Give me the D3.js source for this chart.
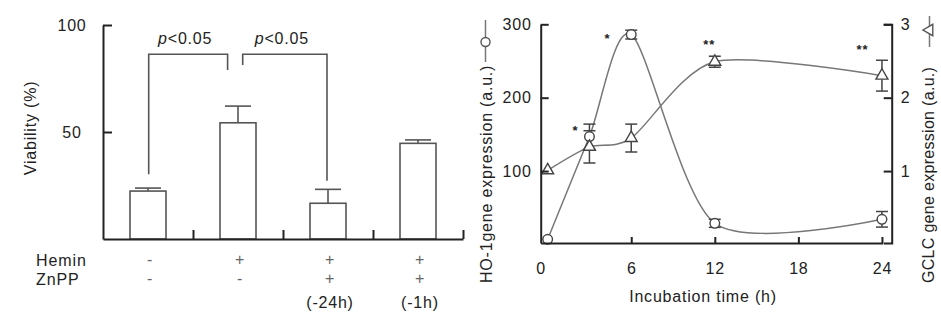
<!DOCTYPE html>
<html>
<head>
<meta charset="utf-8">
<script src="https://cdn.jsdelivr.net/npm/d3@7"></script>
<style>
  body { margin: 0; background: #fff; }
  svg { display: block; }
  text { font-family: "Liberation Sans", Arial, sans-serif; fill: #222; }
</style>
</head>
<body>
<svg width="941" height="319"></svg>
<script>
// ---- Left panel: viability bars
const groups = ["ctrl", "hemin", "znpp24", "znpp1"];
const viability = [22.4, 54.3, 16.7, 44.7];
const viabilityErr = [1.4, 7.8, 6.5, 1.6];
const heminRow = ["-", "+", "+", "+"];
const znppRow = ["-", "-", "+", "+"];
const timingRow = ["", "", "(-24h)", "(-1h)"];
const viabilityTicks = [50, 100];
// significance brackets: from bar, to bar, height, and where each leg stops
const comparisons = [
  {from: 0, to: 1, top: 86.3, legs: [30.2, 79], label: "<0.05"},
  {from: 1, to: 2, top: 86.3, legs: [81.3, 27.2], label: "<0.05"}
];

// ---- Right panel: time course
const times = [0, 3, 6, 12, 24];
const ho1 = [7, 147, 286, 28.8, 34.3];
const ho1Err = [0, 17, 6, 5.5, 10.6];
const gclc = [1.01, 1.33, 1.45, 2.49, 2.30];
const gclcErr = [0, 0.22, 0.19, 0.075, 0.21];
const timeTicks = [0, 6, 12, 18, 24];
const ho1Ticks = [100, 200, 300];
const gclcTicks = [1, 2, 3];
const starText = ["*", "*", "**", "**"];
const starTime = [2.0, 4.3, 11.6, 22.6];
const starLevel = [160, 285, 277, 271];

const svg = d3.select("svg");
const axisColor = "#222";
const markColor = "#555";

// =============== left panel ===============
const x1 = d3.scaleBand().domain(groups).range([103, 463])
  .paddingInner(0.6).paddingOuter(0.3);
const y1 = d3.scaleLinear().domain([0, 100]).range([239, 25]);
const xb = d3.scaleLinear().domain([0, 4]).range([103, 463]);

const left = svg.append("g");

// bars
left.selectAll("rect.bar")
  .data(groups)
  .join("rect")
    .attr("class", "bar")
    .attr("x", d => x1(d))
    .attr("width", x1.bandwidth())
    .attr("y", (d, i) => y1(viability[i]))
    .attr("height", (d, i) => y1(0) - y1(viability[i]))
    .attr("fill", "#fff")
    .attr("stroke", markColor)
    .attr("stroke-width", 1.6);

// error bars (upper only)
const eb = left.selectAll("g.err").data(groups).join("g").attr("class", "err")
  .attr("stroke", markColor).attr("stroke-width", 1.6);
eb.append("line")
  .attr("x1", d => x1(d) + x1.bandwidth() / 2)
  .attr("x2", d => x1(d) + x1.bandwidth() / 2)
  .attr("y1", (d, i) => y1(viability[i]))
  .attr("y2", (d, i) => y1(viability[i] + viabilityErr[i]));
eb.append("line")
  .attr("x1", d => x1(d) + x1.bandwidth() / 2 - 13)
  .attr("x2", d => x1(d) + x1.bandwidth() / 2 + 13)
  .attr("y1", (d, i) => y1(viability[i] + viabilityErr[i]))
  .attr("y2", (d, i) => y1(viability[i] + viabilityErr[i]));

// brackets
const cx = i => x1(groups[i]) + x1.bandwidth() / 2;
comparisons.forEach((c, k) => {
  // inner legs sit a little off the middle bar
  const xa = cx(c.from) + (k === 1 ? 4.7 : 0.7);
  const xc = cx(c.to) + (k === 0 ? -10.4 : -1);
  left.append("path")
    .attr("d", `M${xa},${y1(c.legs[0])}V${y1(c.top)}H${xc}V${y1(c.legs[1])}`)
    .attr("fill", "none")
    .attr("stroke", markColor)
    .attr("stroke-width", 1.6);
  const t = left.append("text")
    .attr("x", (xa + xc) / 2 - 3)
    .attr("y", 44)
    .attr("text-anchor", "middle")
    .style("font-size", "16px")
    .style("letter-spacing", "0.8px");
  t.append("tspan").style("font-style", "italic").text("p");
  t.append("tspan").text(c.label);
});

// axes
left.append("g")
  .attr("transform", "translate(103,0)")
  .call(d3.axisLeft(y1).tickValues(viabilityTicks).tickSizeInner(-9).tickSizeOuter(0))
  .call(g => g.select(".domain").attr("stroke", axisColor).attr("stroke-width", 2))
  .call(g => g.selectAll(".tick line").attr("stroke", axisColor).attr("stroke-width", 2))
  .call(g => g.selectAll(".tick text")
    .attr("x", -31).attr("text-anchor", "middle")
    .attr("fill", "#222")
    .style("font-size", "16px").style("letter-spacing", "0.8px")
    .style("font-family", "Liberation Sans, Arial, sans-serif"));

left.append("g")
  .attr("transform", "translate(0,239)")
  .call(d3.axisBottom(xb).tickValues([1, 2, 3, 4]).tickSizeInner(-9).tickSizeOuter(0).tickFormat(""))
  .call(g => g.select(".domain").attr("stroke", axisColor).attr("stroke-width", 2))
  .call(g => g.selectAll(".tick line").attr("stroke", axisColor).attr("stroke-width", 2));

left.append("text")
  .attr("transform", "translate(35.5,128) rotate(-90)")
  .attr("text-anchor", "middle")
  .style("font-size", "16px")
  .style("letter-spacing", "0.8px")
  .text("Viability (%)");

// treatment rows
const rows = [
  {name: "Hemin", vals: heminRow, y: 266},
  {name: "ZnPP", vals: znppRow, y: 285},
  {name: "", vals: timingRow, y: 308}
];
rows.forEach(r => {
  if (r.name) {
    left.append("text").attr("x", 36).attr("y", r.y)
      .style("font-size", "16px").style("letter-spacing", "0.9px").text(r.name);
  }
  left.selectAll(null).data(r.vals).join("text")
    .attr("x", (d, i) => cx(i) + 2)
    .attr("y", r.y - (r.name ? 1 : 0))
    .attr("text-anchor", "middle")
    .style("font-size", "16px")
    .style("letter-spacing", "0.8px")
    .style("fill", d => d.length === 1 ? "#666" : "#222")
    .text(d => d);
});

// =============== right panel ===============
const x2 = d3.scaleLinear().domain([-0.5, 24.7]).range([540.7, 891.7]);
const yL = d3.scaleLinear().domain([2, 300]).range([243, 24.3]);
const yR = d3.scaleLinear().domain([0.02, 3]).range([243, 24.3]);

const right = svg.append("g");

const curve = d3.curveCardinal.tension(0.2);
const ho1Pts = times.map((t, i) => [t, ho1[i]]);
const gclcPts = times.map((t, i) => [t, gclc[i]]);

right.append("path")
  .datum(ho1Pts)
  .attr("d", d3.line().x(d => x2(d[0])).y(d => yL(d[1])).curve(curve))
  .attr("fill", "none").attr("stroke", "#777").attr("stroke-width", 1.5);
right.append("path")
  .datum(gclcPts)
  .attr("d", d3.line().x(d => x2(d[0])).y(d => yR(d[1])).curve(curve))
  .attr("fill", "none").attr("stroke", "#777").attr("stroke-width", 1.5);

function errorBars(vals, errs, y) {
  const g = right.append("g").attr("stroke", "#444").attr("stroke-width", 1.5);
  times.forEach((t, i) => {
    if (!errs[i]) return;
    const x = x2(t), lo = y(vals[i] - errs[i]), hi = y(vals[i] + errs[i]);
    g.append("line").attr("x1", x).attr("x2", x).attr("y1", lo).attr("y2", hi);
    g.append("line").attr("x1", x - 6).attr("x2", x + 6).attr("y1", lo).attr("y2", lo);
    g.append("line").attr("x1", x - 6).attr("x2", x + 6).attr("y1", hi).attr("y2", hi);
  });
}
errorBars(ho1, ho1Err, yL);
errorBars(gclc, gclcErr, yR);

right.selectAll("circle.ho1")
  .data(ho1Pts)
  .join("circle")
    .attr("class", "ho1")
    .attr("cx", d => x2(d[0]))
    .attr("cy", d => yL(d[1]))
    .attr("r", 4.8)
    .attr("fill", "#fff").attr("stroke", "#444").attr("stroke-width", 1.4);

right.selectAll("path.gclc")
  .data(gclcPts)
  .join("path")
    .attr("class", "gclc")
    .attr("d", d3.symbol(d3.symbolTriangle, 62))
    .attr("transform", d => `translate(${x2(d[0])},${yR(d[1])})`)
    .attr("fill", "#fff").attr("stroke", "#444").attr("stroke-width", 1.4);

right.selectAll("text.star")
  .data(starText)
  .join("text")
    .attr("class", "star")
    .attr("x", (d, i) => x2(starTime[i]))
    .attr("y", (d, i) => yL(starLevel[i]) + 8)
    .attr("text-anchor", "middle")
    .style("font-size", "13px")
    .style("font-weight", "bold")
    .style("letter-spacing", "1px")
    .text(d => d);

// axes
function styleAxis(g) {
  g.select(".domain").attr("stroke", axisColor).attr("stroke-width", 2);
  g.selectAll(".tick line").attr("stroke", axisColor).attr("stroke-width", 2);
  g.selectAll(".tick text")
    .attr("fill", "#222")
    .style("font-size", "16px").style("letter-spacing", "0.8px")
    .style("font-family", "Liberation Sans, Arial, sans-serif");
}

right.append("g")
  .attr("transform", "translate(540.7,0)")
  .call(d3.axisLeft(yL).tickValues(ho1Ticks).tickSizeInner(-8).tickSizeOuter(0).tickPadding(9))
  .call(styleAxis);

right.append("g")
  .attr("transform", "translate(891.7,0)")
  .call(d3.axisRight(yR).tickValues(gclcTicks).tickFormat(d3.format("d"))
    .tickSizeInner(-8).tickSizeOuter(-8).tickPadding(9))
  .call(styleAxis);

const xAxisScale = x2.copy().domain([-0.5, 24.05]).range([540.7, x2(24.05)]);
right.append("g")
  .attr("transform", "translate(0,243)")
  .call(d3.axisBottom(xAxisScale).tickValues(timeTicks).tickSizeInner(-6).tickSizeOuter(0).tickPadding(20))
  .call(styleAxis)
  .call(g => g.selectAll(".tick").filter(d => d === 0).select("text").attr("x", -7))
  .call(g => g.selectAll(".tick").filter(d => d === 0).select("line").remove());

right.append("text")
  .attr("x", 703).attr("y", 302)
  .attr("text-anchor", "middle")
  .style("font-size", "16px").style("letter-spacing", "0.8px")
  .text("Incubation time (h)");

// rotated axis titles, each followed by a small series key
function keyedTitle(x, y, label, symbol, key, spacing) {
  right.append("text")
    .attr("transform", `translate(${x},${y}) rotate(-90)`)
    .style("font-size", "16px").style("letter-spacing", spacing)
    .text(label);
  right.append("line")
    .attr("x1", key.x).attr("x2", key.x).attr("y1", key.top).attr("y2", key.bottom)
    .attr("stroke", "#777").attr("stroke-width", 1.5);
  right.append("path").attr("d", symbol)
    .attr("transform", `translate(${key.x},${key.at}) rotate(-90)`)
    .attr("fill", "#fff").attr("stroke", "#555").attr("stroke-width", 1.4);
}
keyedTitle(491.5, 283, "HO-1gene expression (a.u.)", d3.symbol(d3.symbolCircle, 64)(),
  {x: 485.5, top: 20, bottom: 62, at: 42}, "0.8px");
keyedTitle(933.5, 283, "GCLC gene expression (a.u.)", d3.symbol(d3.symbolTriangle, 56)(),
  {x: 929.5, top: 16, bottom: 47, at: 30}, "0.3px");
</script>
</body>
</html>
